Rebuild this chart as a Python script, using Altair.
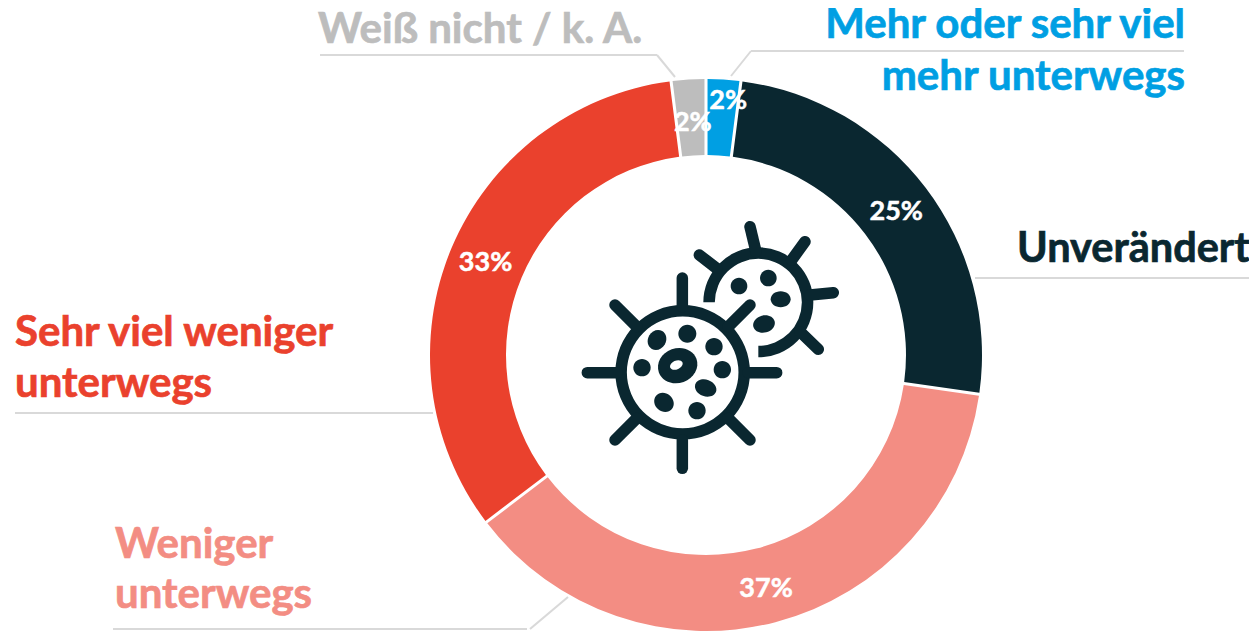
import math
import altair as alt
import pandas as pd

categories = ["Mehr oder sehr viel mehr unterwegs", "Unverändert", "Weniger unterwegs", "Sehr viel weniger unterwegs", "Weiß nicht / k. A."]
values = [2, 25, 37, 33, 2]
colors = ["#009fe3", "#0a2730", "#f38d83", "#ea412d", "#bdbdbd"]
order = [0, 1, 2, 3, 4]

FONT = "Lato"
DARK = "#0a2730"
LINE = "#d9d9d9"
CX, CY = 706 - 8, 355 - 8
TOTAL = sum(values)

df = pd.DataFrame({"cat": categories, "val": values, "ord": order})
base = alt.Chart(df)

color = alt.Color("cat:N", scale=alt.Scale(domain=categories, range=colors), legend=None)
ring = base.mark_arc(radius=276, radius2=200, padAngle=0.009).encode(
    theta=alt.Theta("val:Q", stack=True, scale=alt.Scale(domain=[0, TOTAL], range=[0, 2 * math.pi])),
    order=alt.Order("ord:Q"),
    color=color,
    x=alt.value(CX),
    y=alt.value(CY),
)


def pct(idx, dx=0, dy=0, size=27):
    return (
        base.transform_window(cum="sum(val)", sort=[alt.SortField("ord")])
        .transform_calculate(
            a=f"(datum.cum - datum.val / 2) / {TOTAL} * 2 * PI",
            lx=f"{CX} + 239 * sin(datum.a)",
            ly=f"{CY} - 239 * cos(datum.a)",
            lab="datum.val + '%'",
        )
        .transform_filter(f"datum.ord == {idx}")
        .mark_text(font=FONT, fontWeight="bold", fontSize=size, color="white", stroke="white", strokeWidth=0.5, dx=dx, dy=dy)
        .encode(
            x=alt.X("lx:Q", scale=None),
            y=alt.Y("ly:Q", scale=None),
            text="lab:N",
        )
    )


def seg(x1, y1, x2, y2, col=LINE, w=2, cap="butt"):
    return alt.Chart().mark_rule(color=col, strokeWidth=w, strokeCap=cap).encode(
        x=alt.value(x1 - 8), x2=alt.value(x2 - 8), y=alt.value(y1 - 8), y2=alt.value(y2 - 8)
    )


def label(s, x, y, col, align="left", size=42):
    return alt.Chart().mark_text(
        text=s, font=FONT, fontWeight="bold", fontSize=size, color=col, stroke=col, strokeWidth=0.7,
        align=align, baseline="alphabetic"
    ).encode(x=alt.value(x - 8), y=alt.value(y - 8))


leaders = [
    seg(320, 55, 657, 55), seg(657, 55, 675, 77),
    seg(751, 51, 1184, 51), seg(731, 76, 751, 51),
    seg(975, 278, 1252, 278),
    seg(15, 413, 433, 413),
    seg(113, 629, 527, 629), seg(530, 629, 568, 597),
]

texts = [
    label("Weiß nicht / k. A.", 318, 43, colors[4]),
    label("Mehr oder sehr viel", 1185, 38, colors[0], "right"),
    label("mehr unterwegs", 1185, 90, colors[0], "right"),
    label("Unverändert", 1017, 262, colors[1], size=41.5),
    label("Sehr viel weniger", 15, 346, colors[3]),
    label("unterwegs", 15, 397, colors[3]),
    label("Weniger", 115, 558, colors[2]),
    label("unterwegs", 115, 608, colors[2]),
]


# icon geometry, measured in a 3x crop with origin (570, 210)
def px(v):
    return 570 + v / 3


def py(v):
    return 210 + v / 3


def spoke(x1, y1, x2, y2):
    return seg(px(x1), py(y1), px(x2), py(y2), DARK, 11.5, "round")


def ell(cx, cy, rx, ry, ang=0, col=DARK):
    k = ry / rx
    shape = f"M -1 0 A 1 {k:.3f} 0 1 0 1 0 A 1 {k:.3f} 0 1 0 -1 0 Z"
    r = rx / 3
    return alt.Chart().mark_point(
        shape=shape, size=(2 * r) ** 2, filled=True, color=col, opacity=1, strokeWidth=0, angle=ang % 360
    ).encode(x=alt.value(px(cx) - 8), y=alt.value(py(cy) - 8))


def band(cx, cy, r2, r1, t1=0.0, t2=2 * math.pi):
    return alt.Chart().mark_arc(
        radius=r2, radius2=r1, theta=t1, theta2=t2, color=DARK
    ).encode(x=alt.value(px(cx) - 8), y=alt.value(py(cy) - 8))


icon = [
    band(565, 277, 55, 43.5, 1.5 * math.pi, 3 * math.pi),
    spoke(558, 125, 540, 50), spoke(665, 150, 705, 95), spoke(720, 255, 790, 248),
    spoke(690, 365, 745, 418), spoke(440, 175, 388, 135),
    ell(507, 228, 25, 25), ell(595, 204, 25, 25), ell(632, 268, 30, 24, 0), ell(582, 342, 33, 26, -15),
    band(338, 487, 67.3, 55.8),
    spoke(337, 290, 337, 204), spoke(475, 350, 540, 285), spoke(535, 488, 620, 488), spoke(475, 625, 540, 690),
    spoke(337, 690, 337, 775), spoke(200, 625, 135, 690), spoke(140, 488, 52, 488), spoke(200, 350, 135, 285),
    ell(261, 390, 31, 27, -60), ell(352, 371, 27, 27), ell(432, 410, 26, 26), ell(216, 473, 26, 26),
    ell(457, 479, 26, 26), ell(407, 534, 33, 25, 20), ell(282, 577, 31, 27, 40), ell(381, 602, 26, 26),
    ell(323, 467, 60, 52, -20), ell(319, 465, 20, 13, -25, "white"),
]

chart = alt.layer(
    *leaders,
    ring,
    pct(1, dy=2),
    pct(2, dy=3),
    pct(3),
    pct(0, dx=7, dy=-15),
    pct(4, dx=2, dy=7),
    *texts,
    *icon,
).properties(
    width=1241, height=623, padding=0, autosize=alt.AutoSizeParams(type="none"), background="white"
).configure_view(stroke=None)

chart.save("out.html", embed_options={"renderer": "svg", "actions": False})
